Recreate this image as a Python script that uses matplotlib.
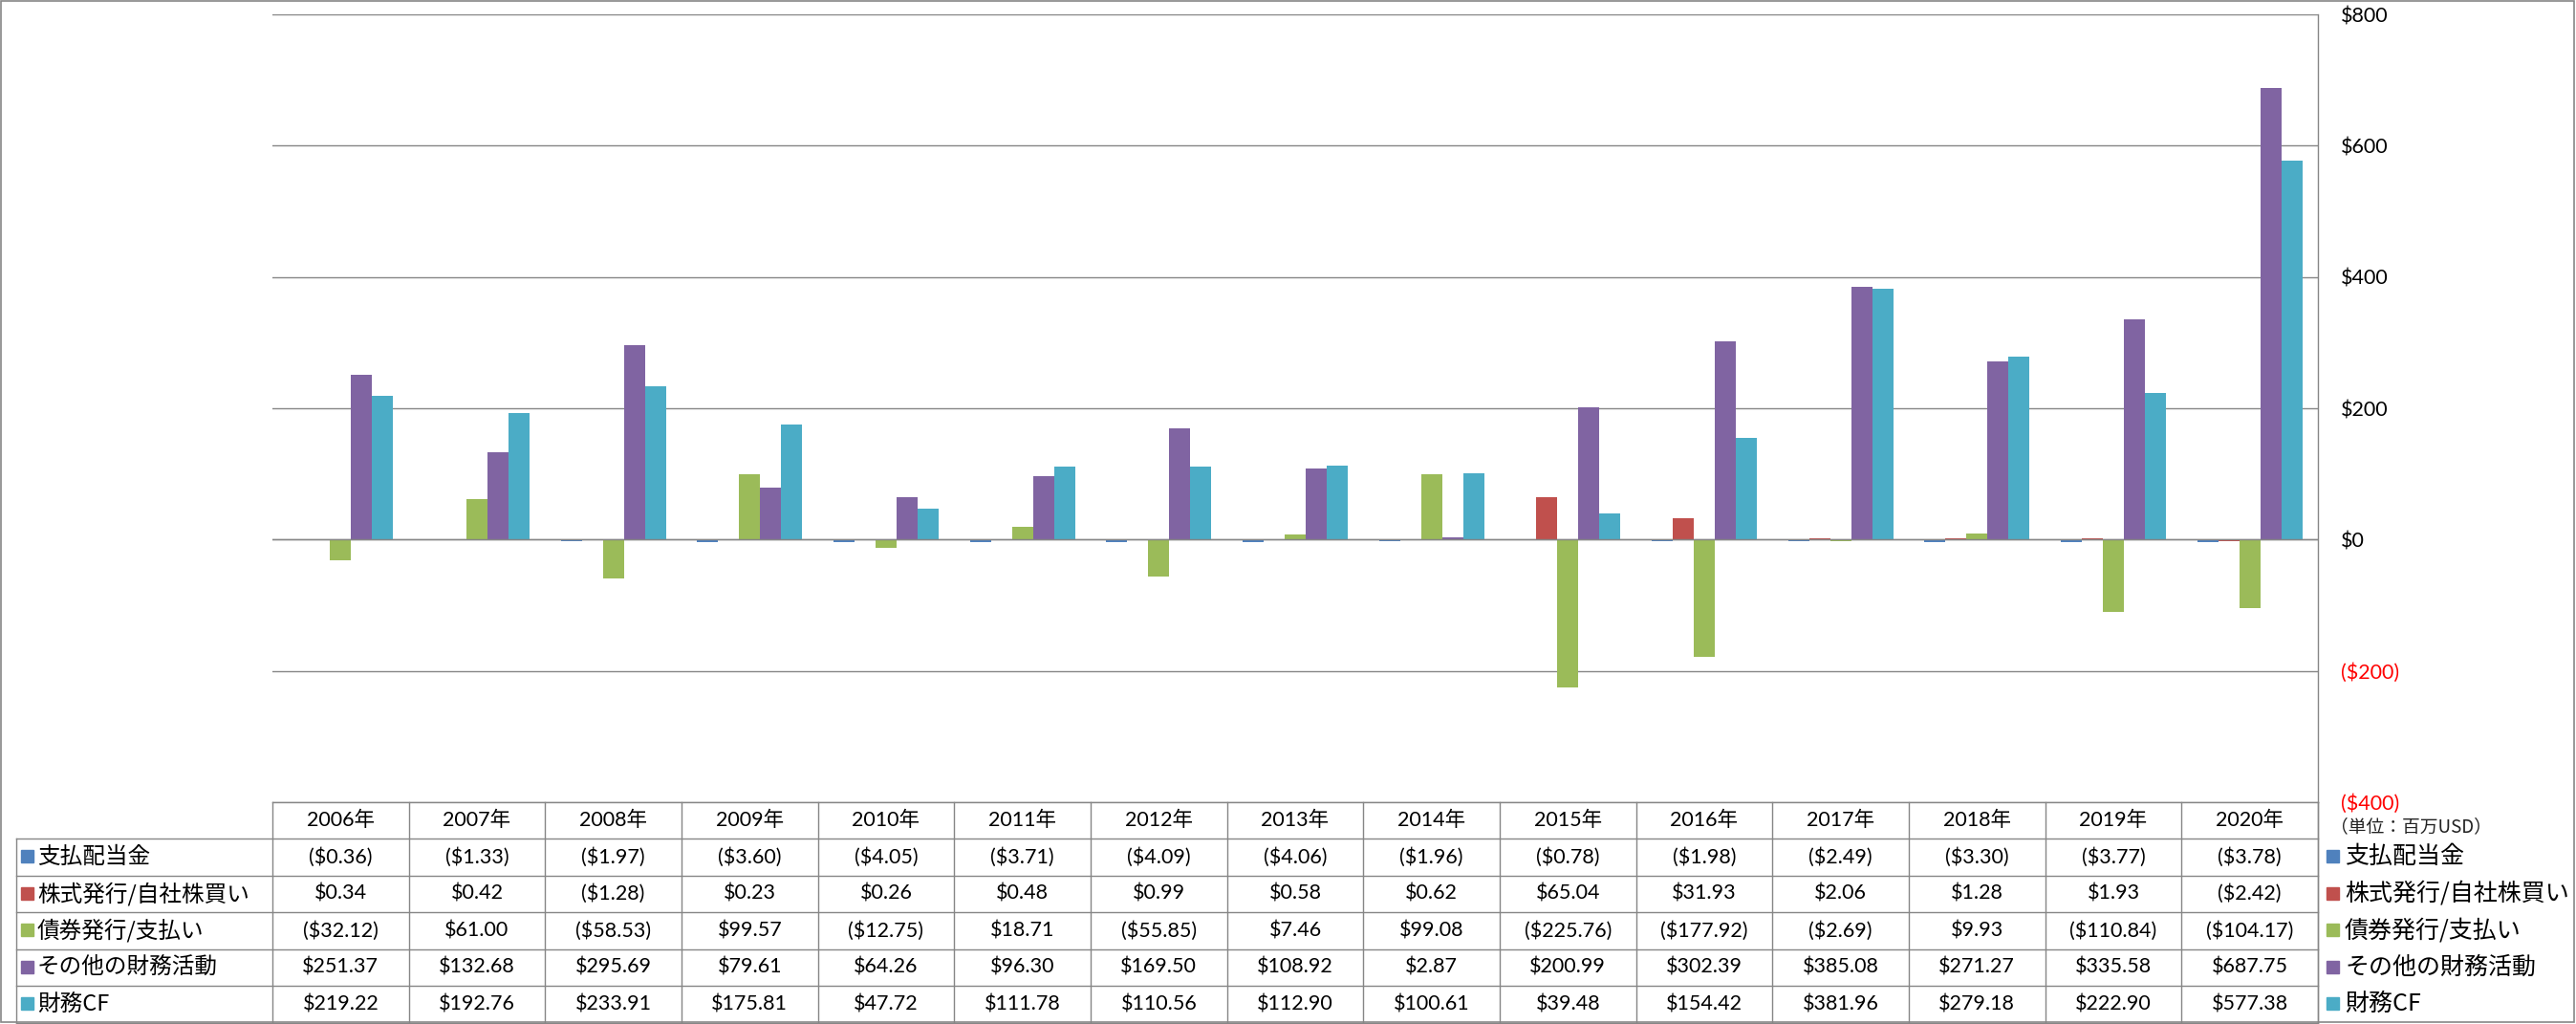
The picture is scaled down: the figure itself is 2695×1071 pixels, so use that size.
import numpy as np
import matplotlib
matplotlib.use("Agg")
import matplotlib.pyplot as plt
from matplotlib.patches import Rectangle

plt.rcParams["font.family"] = ["Lato", "Noto Sans CJK JP", "DejaVu Sans"]

years = [f"{y}年" for y in range(2006, 2021)]
series_names = ["支払配当金", "株式発行/自社株買い", "債券発行/支払い", "その他の財務活動", "財務CF"]
colors = ["#4F81BD", "#C0504D", "#9BBB59", "#8064A2", "#4BACC6"]

dividends = [-0.36, -1.33, -1.97, -3.60, -4.05, -3.71, -4.09, -4.06, -1.96, -0.78, -1.98, -2.49, -3.30, -3.77, -3.78]
stock = [0.34, 0.42, -1.28, 0.23, 0.26, 0.48, 0.99, 0.58, 0.62, 65.04, 31.93, 2.06, 1.28, 1.93, -2.42]
debt = [-32.12, 61.00, -58.53, 99.57, -12.75, 18.71, -55.85, 7.46, 99.08, -225.76, -177.92, -2.69, 9.93, -110.84, -104.17]
other = [251.37, 132.68, 295.69, 79.61, 64.26, 96.30, 169.50, 108.92, 2.87, 200.99, 302.39, 385.08, 271.27, 335.58, 687.75]
fin_cf = [219.22, 192.76, 233.91, 175.81, 47.72, 111.78, 110.56, 112.90, 100.61, 39.48, 154.42, 381.96, 279.18, 222.90, 577.38]
series = [dividends, stock, debt, other, fin_cf]

yticks = [-400, -200, 0, 200, 400, 600, 800]
unit_note = "（単位：百万USD）"


def money(v, nd=2):
    s = f"${abs(v):,.{nd}f}"
    return f"({s})" if v < 0 else s


W, H = 2695, 1071
GRID = "#868686"
CJK = ["Noto Sans CJK JP", "DejaVu Sans"]
fig = plt.figure(figsize=(W / 100, H / 100), dpi=100)

# pixel canvas for the frame and the data table
canvas = fig.add_axes([0, 0, 1, 1], zorder=0)
canvas.set_xlim(0, W)
canvas.set_ylim(H, 0)
canvas.axis("off")

x0, x1 = 285, 2425          # plot / table columns
y_top, y_bot = 15, 839      # plot area
ax = fig.add_axes([x0 / W, 1 - y_bot / H, (x1 - x0) / W, (y_bot - y_top) / H], zorder=1)
ax.patch.set_visible(False)

n = len(years)
x = np.arange(n)
w = 1 / 6.5
for k, (vals, c) in enumerate(zip(series, colors)):
    ax.bar(x + (k - 2) * w, vals, width=w, color=c, zorder=2)

ax.set_xlim(-0.5, n - 0.5)
ax.set_ylim(-400, 800)
ax.set_xticks([])
ax.yaxis.tick_right()
ax.set_yticks(yticks, labels=[money(t, 0) for t in yticks])
for lbl, t in zip(ax.get_yticklabels(), yticks):
    lbl.set_color("red" if t < 0 else "black")
ax.tick_params(axis="y", length=0, pad=17, labelsize=15.5)
ax.set_axisbelow(True)
ax.yaxis.grid(True, color=GRID, linewidth=1.0)
ax.axhline(0, color=GRID, linewidth=1.0, zorder=3)
for s in ["left", "top", "bottom"]:
    ax.spines[s].set_visible(False)
ax.spines["right"].set_color(GRID)
ax.spines["right"].set_linewidth(1.0)

# outer frame
canvas.add_patch(Rectangle((1, 1), W - 3, H - 3, fill=False, edgecolor=GRID, linewidth=1.2))

# data table
col_w = (x1 - x0) / n
hdr_top, hdr_bot = 839, 877
row_h = 38.5
row_edges = [hdr_bot + i * row_h for i in range(len(series) + 1)]
tbl_left = 17
lc = dict(color=GRID, linewidth=1.0)

canvas.plot([x0, x1], [hdr_top, hdr_top], **lc)
for ye in row_edges:
    canvas.plot([tbl_left, x1], [ye, ye], **lc)
canvas.plot([tbl_left, tbl_left], [hdr_bot, row_edges[-1]], **lc)
for i in range(n + 1):
    xe = x0 + i * col_w
    canvas.plot([xe, xe], [hdr_top, row_edges[-1]], **lc)
canvas.plot([x1, x1], [hdr_top, H - 2], **lc)

for i, yr in enumerate(years):
    canvas.text(x0 + (i + 0.5) * col_w, (hdr_top + hdr_bot) / 2, yr,
                ha="center", va="center", fontsize=15.5)

for r, (name, vals, c) in enumerate(zip(series_names, series, colors)):
    yc = (row_edges[r] + row_edges[r + 1]) / 2
    canvas.add_patch(Rectangle((22, yc - 7), 13, 13, color=c))
    canvas.text(39, yc, name, ha="left", va="center", fontsize=17, family=CJK)
    for i, v in enumerate(vals):
        canvas.text(x0 + (i + 0.5) * col_w, yc, money(v),
                    ha="center", va="center", fontsize=15.5)
    # legend on the right
    canvas.add_patch(Rectangle((2434, yc - 7), 13, 13, color=c))
    canvas.text(2453, yc, name, ha="left", va="center", fontsize=18, family=CJK)

canvas.text(2438, 865, unit_note, ha="left", va="center", fontsize=13.5,
            family=CJK, color="#222222")

fig.savefig("out.png", dpi=100)
